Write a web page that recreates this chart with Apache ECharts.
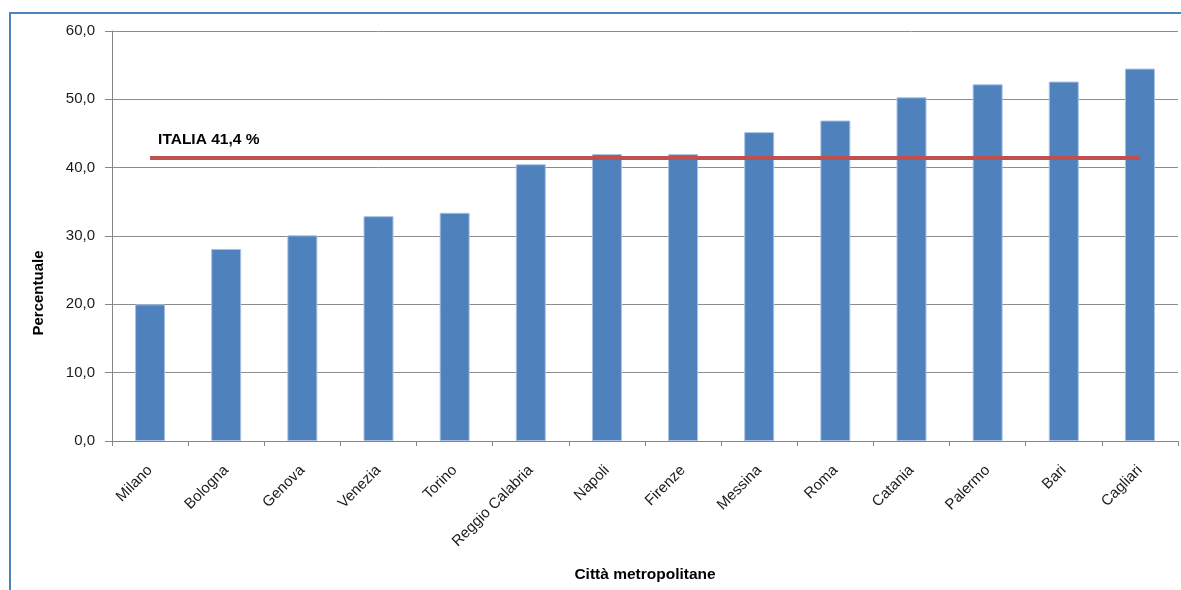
<!DOCTYPE html>
<html><head><meta charset="utf-8">
<script src="https://cdn.jsdelivr.net/npm/echarts@6/dist/echarts.min.js"></script>
<style>html,body{margin:0;padding:0;background:#fff}#c{width:1181px;height:590px}</style>
</head><body><div id="c"></div>
<script>
const categories = ['Milano','Bologna','Genova','Venezia','Torino','Reggio Calabria','Napoli','Firenze','Messina','Roma','Catania','Palermo','Bari','Cagliari'];
const values = [20.0, 28.1, 30.1, 32.9, 33.4, 40.5, 42.0, 42.0, 45.2, 46.9, 50.3, 52.2, 52.6, 54.5];
const italia = 41.4;
const italiaLabel = 'ITALIA 41,4 %';
const yTicks = [0, 10, 20, 30, 40, 50, 60];
const xTitle = 'Città metropolitane';
const yTitle = 'Percentuale';

const font = '"Liberation Sans", Arial, sans-serif';
const chart = echarts.init(document.getElementById('c'));
chart.setOption({
  animation: false,
  graphic: [{
    type: 'rect', shape: {x: 10, y: 13, width: 1300, height: 700},
    style: {fill: 'none', stroke: '#4f81bd', lineWidth: 2}, silent: true
  }, {
    type: 'text', x: 39, y: 293, rotation: Math.PI / 2,
    style: {text: yTitle, font: 'bold 15px ' + font, fill: '#000', align: 'center', verticalAlign: 'middle'},
    silent: true
  }],
  grid: {left: 112, right: 3, top: 31, bottom: 149},
  xAxis: {
    type: 'category', data: categories,
    axisLine: {lineStyle: {color: '#868686', width: 1}},
    axisTick: {show: true, length: 5, lineStyle: {color: '#868686'}},
    axisLabel: {rotate: 45, fontSize: 15, color: '#1a1a1a', fontFamily: font, margin: 27},
    name: xTitle, nameLocation: 'middle', nameGap: 126,
    nameTextStyle: {fontSize: 15.5, fontWeight: 'bold', color: '#000', fontFamily: font}
  },
  yAxis: {
    type: 'value', min: yTicks[0], max: yTicks[yTicks.length - 1], interval: 10,
    axisLine: {show: true, lineStyle: {color: '#868686', width: 1}},
    axisTick: {show: true, length: 7, lineStyle: {color: '#868686'}},
    splitLine: {lineStyle: {color: '#8c8c8c', width: 1}},
    axisLabel: {fontSize: 15, color: '#1a1a1a', fontFamily: font, margin: 17,
      formatter: v => v.toFixed(1).replace('.', ',')}
  },
  series: [{
    type: 'bar', data: values, barWidth: 30,
    itemStyle: {color: '#4f81bd', borderColor: '#a9c2e3', borderWidth: 1},
    markLine: {
      silent: true, symbol: 'none',
      lineStyle: {color: '#c0504d', width: 4, type: 'solid'},
      label: {show: true, position: 'insideStartTop', formatter: italiaLabel,
        fontSize: 15.5, fontWeight: 'bold', color: '#000', fontFamily: font, distance: [8, 10]},
      data: [[{coord: [categories[0], italia]}, {coord: [categories[categories.length - 1], italia]}]]
    }
  }]
});
</script></body></html>
